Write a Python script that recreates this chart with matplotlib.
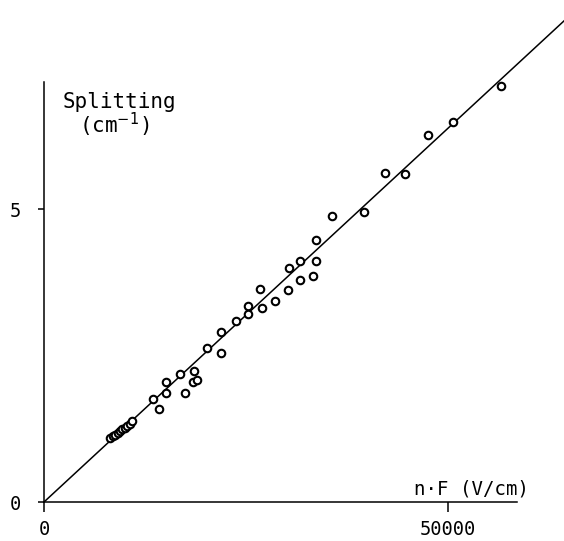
import matplotlib; matplotlib.use("Agg")
import matplotlib.pyplot as plt
import numpy as np

field = [8200, 8500, 8800, 9100, 9400, 9700, 10000, 10300, 10600, 10900,
         13490, 14230, 15100, 15100, 16830, 17450, 18440, 18560, 18940,
         20170, 21910, 21910, 23760, 25250, 25250, 26730, 26980, 28590,
         30200, 30320, 31680, 31680, 33290, 33660, 33660, 35640, 39600,
         42200, 44680, 47520, 50620, 56560]
splitting = [1.10, 1.12, 1.14, 1.17, 1.21, 1.24, 1.27, 1.30, 1.34, 1.38,
             1.76, 1.59, 2.05, 1.86, 2.18, 1.86, 2.05, 2.24, 2.08,
             2.63, 2.90, 2.54, 3.09, 3.34, 3.21, 3.63, 3.31, 3.43,
             3.62, 3.99, 4.11, 3.79, 3.86, 4.47, 4.11, 4.88, 4.95,
             5.61, 5.60, 6.26, 6.48, 7.10]

fit_slope = 1.277e-4          # cm^-1 per V/cm
fit_x = np.array([0, 64600])

x_ticks = [0, 50000]
y_ticks = [0, 5]

MONO = "DejaVu Sans Mono"

fig = plt.figure(figsize=(5.64, 5.41), dpi=100)
ax = fig.add_axes([44 / 564, 39 / 541, 473 / 564, 420 / 541])
ax.set_xlim(0, 58500)
ax.set_ylim(0, 7.17)

ax.plot(fit_x, fit_slope * fit_x, color="black", lw=1.1, clip_on=False)
ax.plot(field, splitting, "o", mfc="white", mec="black", ms=5.4, mew=1.5,
        clip_on=False)

for s in ("top", "right"):
    ax.spines[s].set_visible(False)
for s in ("left", "bottom"):
    ax.spines[s].set_linewidth(1.1)

ax.set_xticks(x_ticks)
ax.set_xticklabels([str(t) for t in x_ticks], family=MONO, fontsize=13.5)
ax.set_yticks(y_ticks)
ax.set_yticklabels([str(t) for t in y_ticks], family=MONO, fontsize=13.5)
ax.tick_params(axis="x", direction="out", length=7, width=1.1, pad=6)
ax.tick_params(axis="y", direction="out", length=4.5, width=1.1, pad=12)

ax.text(2350, 6.83, "Splitting", family=MONO, fontsize=15, va="center", ha="left")
ax.text(4300, 6.43, "(cm$^{-1}$)", family=MONO, fontsize=15, va="center", ha="left")
ax.text(45800, 0.22, "n·F (V/cm)", family=MONO, fontsize=13.7, va="center", ha="left")

fig.savefig("out.png", dpi=100)
